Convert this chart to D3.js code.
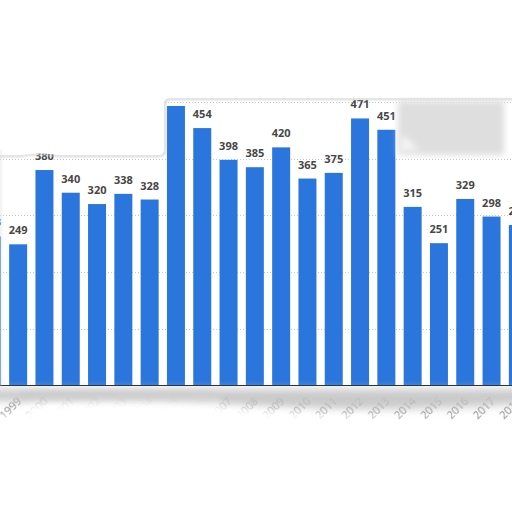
<!DOCTYPE html>
<html><head><meta charset="utf-8">
<script src="https://cdn.jsdelivr.net/npm/d3@7/dist/d3.min.js"></script>
<style>html,body{margin:0;padding:0;background:#fff;}svg{display:block;}</style>
</head><body>
<svg id="c" width="512" height="512"></svg>
<script>
const years = ["1998","1999","2000","2001","2002","2003","2004","2005","2006","2007","2008","2009","2010","2011","2012","2013","2014","2015","2016","2017","2018"];
const values = [263,249,380,340,320,338,328,493,454,398,385,420,365,375,471,451,315,251,329,298,283];
const gridTicks = [100,200,300,400,500];

const svg = d3.select("#c");
const defs = svg.append("defs");
[["b1",1.2],["b3",3],["b4",4],["b06",0.7],["b6",6]].forEach(([id,s])=>{
  defs.append("filter").attr("id",id).attr("x","-20%").attr("y","-50%").attr("width","140%").attr("height","200%")
    .append("feGaussianBlur").attr("stdDeviation",s);
});

const x = d3.scaleBand().domain(years).range([-21.3, -21.3 + 21*26.3]).paddingInner(0.316).paddingOuter(0.158);
const y = d3.scaleLinear().domain([0,500]).range([385.5,102]);

// gridlines
svg.append("g").selectAll("line").data(gridTicks).join("line")
  .attr("x1",0).attr("x2",512).attr("y1",d=>Math.round(y(d))+0.5).attr("y2",d=>Math.round(y(d))+0.5)
  .attr("stroke","#c8c8c8").attr("stroke-width",1).attr("stroke-dasharray","1,2");

// bars
svg.append("g").selectAll("rect").data(values).join("rect")
  .attr("x",(d,i)=>x(years[i])).attr("width",x.bandwidth())
  .attr("y",d=>y(d)).attr("height",d=>y(0)-y(d))
  .attr("fill","#2a76dc");

// value labels
svg.append("g").selectAll("text").data(values).join("text")
  .attr("x",(d,i)=>x(years[i])+x.bandwidth()/2).attr("y",d=>y(d)-10)
  .attr("text-anchor","middle").attr("font-family","'Open Sans', sans-serif")
  .attr("font-weight","bold").attr("font-size","11px").attr("fill","#474747")
  .text(d=>d);

// x axis
const xAxis = d3.axisBottom(x).tickSize(0).tickPadding(0);
const ax = svg.append("g").attr("transform","translate(0,386)").call(xAxis);
ax.select(".domain").remove();
svg.append("line").attr("x1",0).attr("x2",512).attr("y1",385.5).attr("y2",385.5).attr("stroke","#111").attr("stroke-width",1.2);

// bottom fog band
svg.append("path").attr("d","M-10,389 H522 V404 Q400,412 300,408 Q150,404 -10,401 Z")
  .attr("fill","#c4c4c4").attr("filter","url(#b4)").attr("opacity",0.9);

ax.selectAll(".tick text")
  .attr("font-family","'Open Sans', sans-serif").attr("font-size","11px").attr("fill","#808080")
  .attr("text-anchor","end").attr("dy","0").attr("dx","0")
  .attr("transform","translate(4,16) rotate(-45)")
  .attr("filter","url(#b06)");

// white fog over lower part of tick labels
svg.append("path").attr("d","M-20,418 Q100,412 200,404 L225,406 Q300,414 420,420 L530,424 V530 H-20 Z")
  .attr("fill","#fff").attr("filter","url(#b4)");
svg.append("path").attr("d","M26,403 Q100,399 215,399 L220,440 H26 Z").attr("fill","#fff").attr("filter","url(#b4)");
svg.append("path").attr("d","M20,392 H215 V404 Q120,400 20,401 Z").attr("fill","#c8c8c8").attr("opacity",0.6).attr("filter","url(#b3)");

// top fog
svg.append("path").attr("d","M-10,-10 H522 V99 H170 Q165,99 165,104 V150 Q165,156 158,156 H60 Q40,153 20,156 H-10 Z")
  .attr("fill","none").attr("stroke","#c4c4c4").attr("stroke-width",1.5).attr("filter","url(#b1)");
svg.append("path").attr("d","M-10,-10 H522 V98 H170 Q164,98 164,103 V149 Q164,155 158,155 H60 Q40,152 20,155 H-10 Z")
  .attr("fill","#fff");
// gray blurred box top-right
svg.append("rect").attr("x",398).attr("y",101).attr("width",106).attr("height",54)
  .attr("fill","#dedede").attr("filter","url(#b3)");
svg.append("path").attr("d","M400,152 L402,134 L420,150 Z").attr("fill","#f4f4f4").attr("filter","url(#b3)");
// left edge haze
svg.append("rect").attr("x",-4).attr("y",150).attr("width",6).attr("height",236).attr("fill","#ddd").attr("opacity",0.4).attr("filter","url(#b1)");
</script>
</body></html>
